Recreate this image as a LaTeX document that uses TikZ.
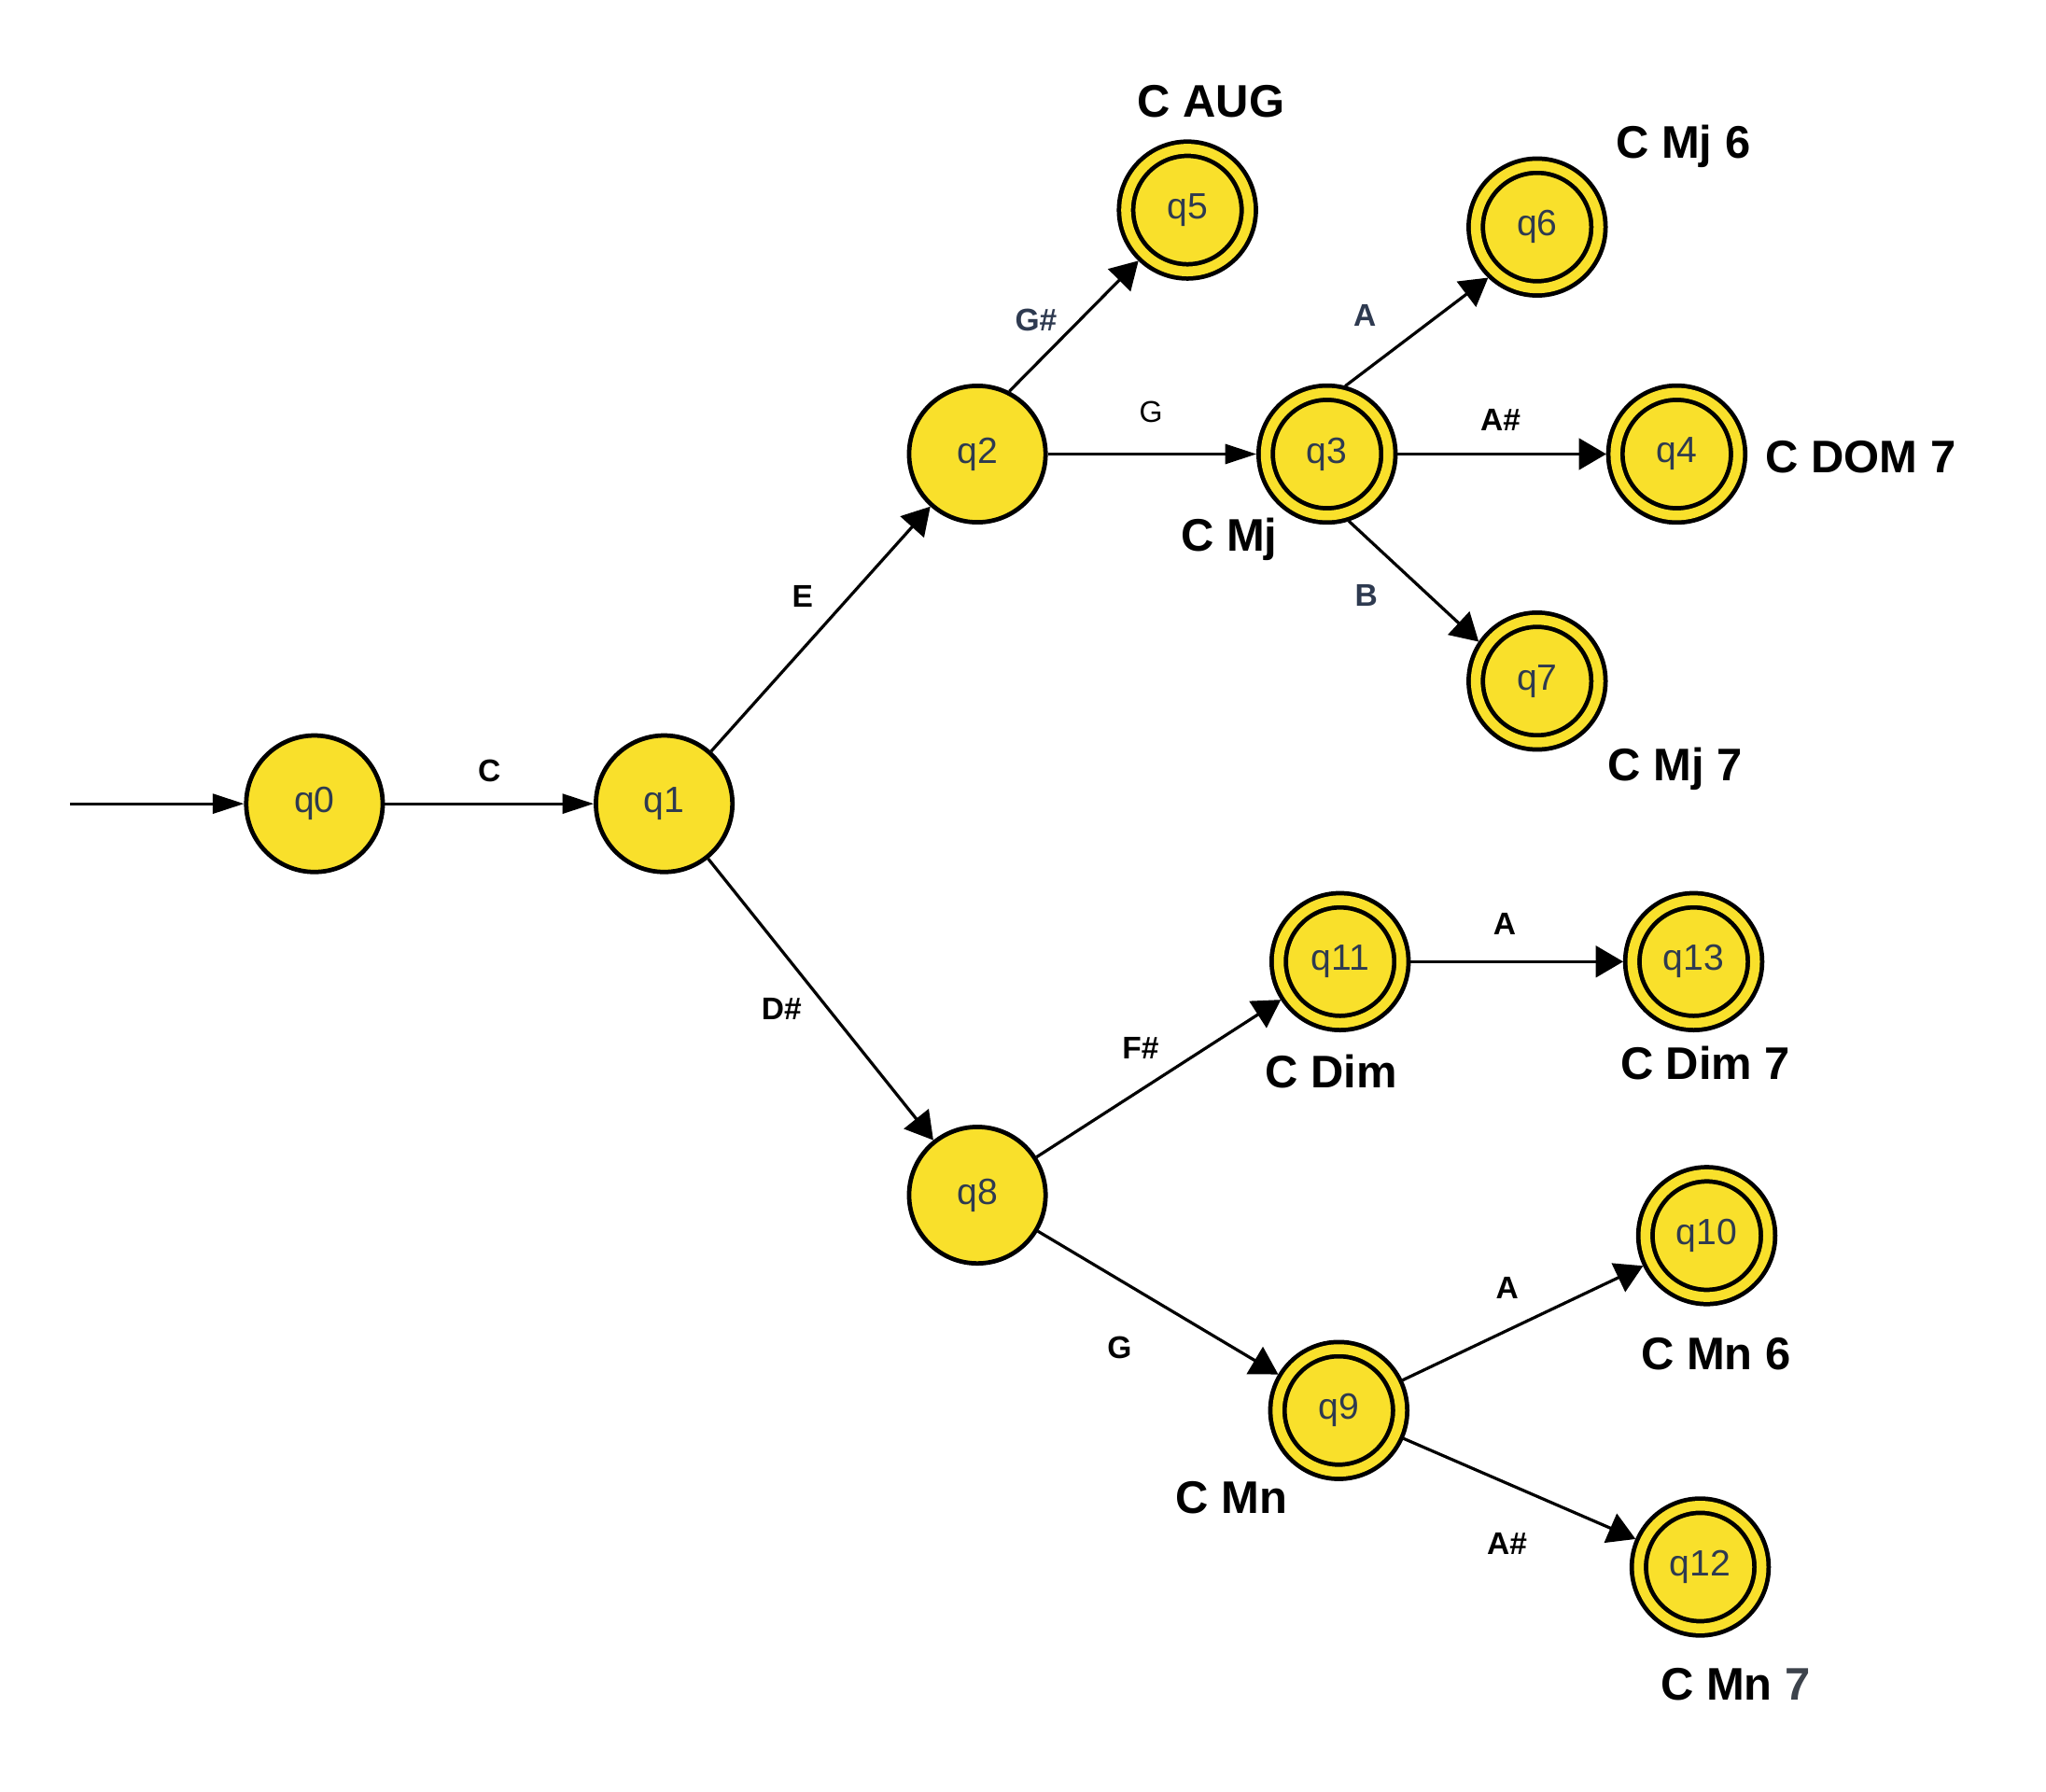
\documentclass[tikz,border=0pt]{standalone}
\usepackage{fontspec}
\setmainfont{Liberation Sans}
\usetikzlibrary{arrows.meta}
\definecolor{yfill}{RGB}{249,224,43}
\definecolor{slate}{RGB}{46,58,80}
\definecolor{greyseven}{RGB}{61,67,76}
\tikzset{
  st/.style={circle, draw=black, fill=yfill, line width=3.4pt, minimum size=104.6pt, inner sep=0pt,
    text=slate, font=\fontsize{28}{32}\selectfont},
  acc/.style={circle, draw=black, fill=yfill, line width=3.4pt, double=yfill, double distance=7.5pt,
    minimum size=94pt, inner sep=0pt, outer sep=7pt, text=slate, font=\fontsize{28}{32}\selectfont},
  slim/.style={line width=2.3pt, -{Triangle[length=24pt,width=15pt]}},
  broad/.style={line width=2.3pt, -{Triangle[length=21pt,width=24pt]}},
  elab/.style={font=\bfseries\fontsize{24}{28}\selectfont, text=black},
  elabs/.style={font=\bfseries\fontsize{24}{28}\selectfont, text=slate},
  elabr/.style={font=\fontsize{23}{27}\selectfont, text=black},
  clab/.style={font=\bfseries\fontsize{35}{40}\selectfont, text=black},
}
\begin{document}
\begin{tikzpicture}[x=1pt,y=-1pt]
\useasboundingbox (0,0) rectangle (1568,1373);
% states
\node[st] (q0) at (241,616) {q0};
\node[st] (q1) at (509,616) {q1};
\node[st] (q2) at (749,348) {q2};
\node[st] (q8) at (749,916) {q8};
\node[acc] (q5) at (910,161) {q5};
\node[acc] (q3) at (1017,348) {q3};
\node[acc] (q6) at (1178,174) {q6};
\node[acc] (q4) at (1285,348) {q4};
\node[acc] (q7) at (1178,522) {q7};
\node[acc] (q11) at (1027,737) {q11};
\node[acc] (q13) at (1298,737) {q13};
\node[acc] (q10) at (1308,947) {q10};
\node[acc] (q9) at (1026,1081) {q9};
\node[acc] (q12) at (1303,1201) {q12};
\coordinate (init) at (54,616);
% edges
\draw[slim] (init) -- (q0);
\draw[slim] (q0) -- (q1);
\draw[broad] (q1) -- (q2);
\draw[broad] (q1) -- (q8);
\draw[broad] (q2.63) -- (q5.226);
\draw[slim] (q2) -- (q3);
\draw[broad] (q3.75) -- (q6.226);
\draw[broad] (q3) -- (q4);
\draw[broad] (q3.-72) -- (q7.146);
\draw[broad] (q8) -- (q11);
\draw[broad] (q8) -- (q9);
\draw[broad] (q11) -- (q13);
\draw[broad] (q9) -- (q10);
\draw[broad] (q9) -- (q12);
% edge labels
\node[elab] (lC) at (375,591) {C};
\node[elab] (lE) at (615,457) {E};
\node[elab] (lDs) at (599,773) {D\#};
\node[elabs] (lGs) at (794,245) {G\#};
\node[elabr] (lG1) at (882,316) {G};
\node[elabs] (lA1) at (1046,242) {A};
\node[elab] (lAs1) at (1150,322) {A\#};
\node[elabs] (lB) at (1047,456) {B};
\node[elab] (lA2) at (1153,708) {A};
\node[elab] (lFs) at (874,803) {F\#};
\node[elab] (lG2) at (858,1033) {G};
\node[elab] (lA3) at (1155,987) {A};
\node[elab] (lAs2) at (1155,1183) {A\#};
% chord labels
\node[clab] (cAug) at (928,78) {C AUG};
\node[clab] (cMj6) at (1290,112) {C Mj 6};
\node[clab] (cDom7) at (1426,350) {C DOM 7};
\node[clab] (cMj) at (942,413) {C Mj};
\node[clab] (cMj7) at (1284,589) {C Mj 7};
\node[clab] (cDim) at (1020,821) {C Dim};
\node[clab] (cDim7) at (1307,815) {C Dim 7};
\node[clab] (cMn6) at (1315,1038) {C Mn 6};
\node[clab] (cMn) at (944,1148) {C Mn};
\node[clab] (cMn7) at (1330,1291) {C Mn \textcolor{greyseven}{7}};
\end{tikzpicture}
\end{document}
